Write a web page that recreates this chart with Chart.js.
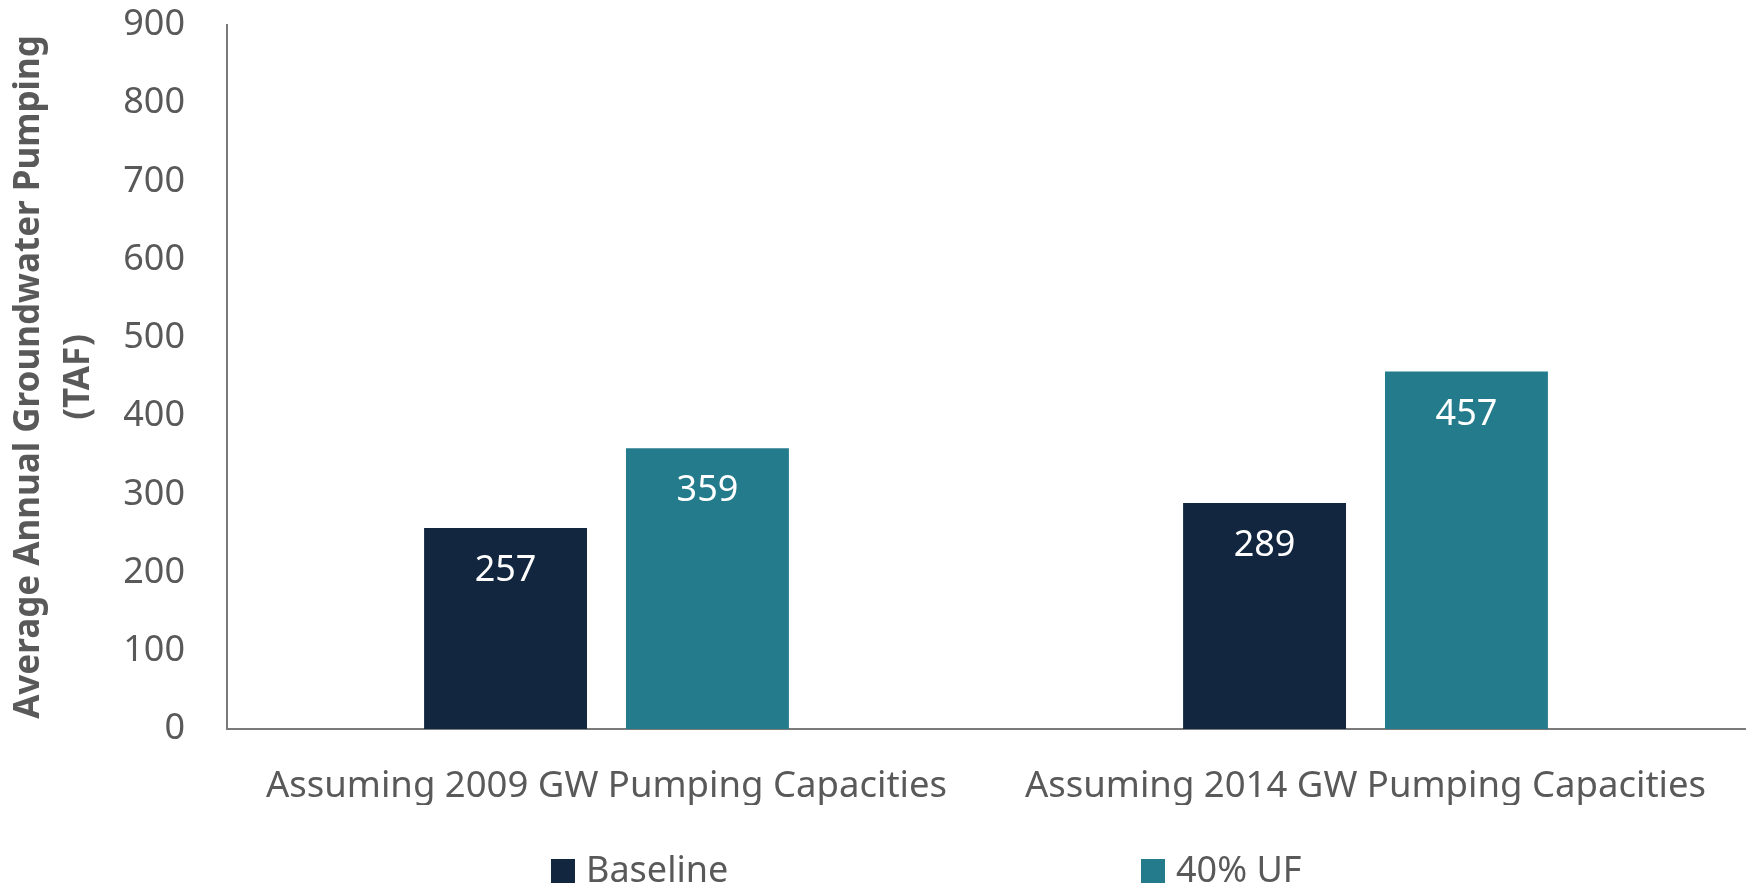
<!DOCTYPE html>
<html>
<head>
<meta charset="utf-8">
<script src="https://cdn.jsdelivr.net/npm/chart.js@4.4.1/dist/chart.umd.min.js"></script>
<style>
  html, body { margin: 0; padding: 0; background: #ffffff; }
  #wrap { width: 1752px; height: 888px; position: relative; }
</style>
</head>
<body>
<div id="wrap"><canvas id="chart" width="1752" height="888"></canvas></div>
<script>
const categories = ['Assuming 2009 GW Pumping Capacities', 'Assuming 2014 GW Pumping Capacities'];
const baselineValues = [257, 289];
const ufValues = [359, 457];
const seriesNames = ['Baseline', '40% UF'];
const yTitle = ['Average Annual Groundwater Pumping', '(TAF)'];

const NAVY = '#122640';
const TEAL = '#237B8C';
const TEXT = '#595959';
const AXIS = '#7a7a7a';
const FONT = "'Noto Sans', 'Open Sans', sans-serif";

// white value labels just inside the top of each bar
const barValuePlugin = {
  id: 'barValues',
  afterDatasetsDraw(chart) {
    const ctx = chart.ctx;
    ctx.save();
    ctx.font = `36px ${FONT}`;
    ctx.fillStyle = '#ffffff';
    ctx.textAlign = 'center';
    ctx.textBaseline = 'middle';
    chart.data.datasets.forEach((ds, i) => {
      const meta = chart.getDatasetMeta(i);
      meta.data.forEach((bar, j) => {
        ctx.fillText(String(ds.data[j]), bar.x, bar.y + 43);
      });
    });
    ctx.restore();
  },
};

// legend drawn by hand so the two items sit where the original puts them
const sideLegendPlugin = {
  id: 'sideLegend',
  afterDraw(chart) {
    const ctx = chart.ctx;
    const area = chart.chartArea;
    const y = chart.height - 17;
    const offsets = [324, 914];
    ctx.save();
    ctx.font = `36px ${FONT}`;
    ctx.textBaseline = 'middle';
    ctx.textAlign = 'left';
    chart.data.datasets.forEach((ds, i) => {
      const x = area.left + offsets[i];
      ctx.fillStyle = ds.backgroundColor;
      ctx.fillRect(x, y - 12, 24, 24);
      ctx.fillStyle = TEXT;
      ctx.fillText(ds.label, x + 35, y + 1);
    });
    ctx.restore();
  },
};

const ctx = document.getElementById('chart').getContext('2d');
new Chart(ctx, {
  type: 'bar',
  data: {
    labels: categories,
    datasets: [
      {
        label: seriesNames[0],
        data: baselineValues,
        backgroundColor: NAVY,
        categoryPercentage: 0.532,
        barPercentage: 0.807,
      },
      {
        label: seriesNames[1],
        data: ufValues,
        backgroundColor: TEAL,
        categoryPercentage: 0.532,
        barPercentage: 0.807,
      },
    ],
  },
  options: {
    responsive: false,
    animation: false,
    layout: { padding: { left: 3, right: 7, top: 25, bottom: 83 } },
    plugins: {
      legend: { display: false },
      tooltip: { enabled: false },
    },
    scales: {
      x: {
        grid: { display: false, drawTicks: false },
        border: { display: true, color: AXIS, width: 2 },
        ticks: { color: TEXT, padding: 36, maxRotation: 0, font: { family: FONT, size: 36.5 } },
        afterFit(scale) {
          scale.height = 76;
          scale.paddingLeft = 0;
          scale.paddingRight = 0;
        },
      },
      y: {
        min: 0,
        max: 900,
        grid: { display: false, drawTicks: false },
        border: { display: true, color: AXIS, width: 2 },
        ticks: { stepSize: 100, color: TEXT, padding: 42, font: { family: FONT, size: 36 } },
        title: {
          display: true,
          text: yTitle,
          color: TEXT,
          padding: { top: 1.5, bottom: 0 },
          font: { family: FONT, size: 35, weight: 'bold', lineHeight: '50px' },
        },
        afterFit(scale) {
          scale.width = 224;
          scale.paddingTop = 0;
          scale.paddingBottom = 0;
        },
      },
    },
  },
  plugins: [barValuePlugin, sideLegendPlugin],
});
</script>
</body>
</html>
